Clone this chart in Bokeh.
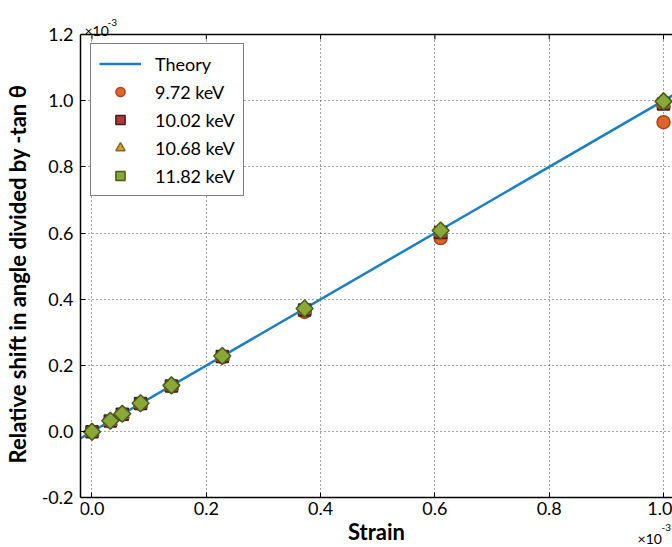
import math
from bokeh.plotting import figure
from bokeh.models import (FixedTicker, NumeralTickFormatter, Label, Range1d, Span)
from bokeh.embed import file_html
from bokeh.resources import INLINE

# Data (values in units of 1e-3)
strain = [0.0, 0.032, 0.053, 0.085, 0.139, 0.228, 0.372, 0.610, 1.000]
shift_972 = [0.0, 0.031, 0.052, 0.084, 0.137, 0.225, 0.362, 0.585, 0.935]
shift_1002 = [0.0, 0.032, 0.053, 0.085, 0.138, 0.227, 0.368, 0.602, 0.990]
shift_1068 = [0.0, 0.032, 0.053, 0.085, 0.139, 0.228, 0.370, 0.604, 0.993]
shift_1182 = [0.0, 0.033, 0.054, 0.086, 0.140, 0.229, 0.372, 0.608, 0.998]
theory_strain = [-0.05, 1.05]
theory_shift = [-0.05, 1.05]

x_ticks = [0.0, 0.2, 0.4, 0.6, 0.8, 1.0]
y_ticks = [-0.2, 0.0, 0.2, 0.4, 0.6, 0.8, 1.0, 1.2]
Y_MIN, Y_MAX = -0.2, 1.2

FONT = "Lato"
W, H = 672, 547

p = figure(width=W, height=H, output_backend="svg", toolbar_location=None,
           x_range=Range1d(-0.0201, 1.0157), y_range=Range1d(-0.3498, 1.3027),
           min_border_left=80, min_border_right=0, min_border_top=0,
           min_border_bottom=0, x_axis_label="Strain",
           y_axis_label="Relative shift in angle divided by -tan θ")
p.outline_line_color = None
p.background_fill_color = "white"
p.border_fill_color = "white"

xa, ya = p.xaxis[0], p.yaxis[0]
for ax, ticks in ((xa, x_ticks), (ya, y_ticks)):
    ax.ticker = FixedTicker(ticks=ticks)
    ax.formatter = NumeralTickFormatter(format="0.0")
    ax.major_tick_in = 5
    ax.major_tick_out = 0
    ax.minor_tick_line_color = None
    ax.axis_line_color = "black"
    ax.axis_line_width = 1.5
    ax.major_tick_line_color = "black"
    ax.major_label_text_font = FONT
    ax.major_label_text_font_size = "18px"
    ax.major_label_text_color = "black"
    ax.axis_label_text_font = FONT
    ax.axis_label_text_font_size = "22px"
    ax.axis_label_text_font_style = "bold"
    ax.axis_label_text_color = "black"

xa.fixed_location = Y_MIN
xa.major_label_standoff = 4
xa.axis_label_standoff = 0
ya.bounds = (Y_MIN, Y_MAX)
ya.major_label_standoff = 7
ya.axis_label_standoff = 8

GRID_COLOR, GRID_DASH = "#444444", "1 3"
p.ygrid.ticker = FixedTicker(ticks=y_ticks)
p.ygrid.grid_line_color = GRID_COLOR
p.ygrid.grid_line_dash = GRID_DASH
p.ygrid.grid_line_width = 1

xg = p.xgrid[0]
xg.ticker = FixedTicker(ticks=x_ticks)
xg.grid_line_color = GRID_COLOR
xg.grid_line_dash = GRID_DASH
xg.grid_line_width = 1
if "cross_bounds" in xg.properties():
    xg.cross_bounds = (Y_MIN, Y_MAX)
else:
    xg.visible = False
    p.segment(x0=x_ticks, y0=[Y_MIN] * len(x_ticks), x1=x_ticks,
              y1=[Y_MAX] * len(x_ticks), line_color=GRID_COLOR,
              line_dash=GRID_DASH, line_width=1)

# top frame line with inward ticks
p.add_layout(Span(location=Y_MAX, dimension="width", line_color="black",
                  line_width=1.5))
tick_len = 5.0 / 331.0
p.segment(x0=x_ticks, y0=[Y_MAX] * len(x_ticks), x1=x_ticks,
          y1=[Y_MAX - tick_len] * len(x_ticks), line_color="black", line_width=1)

p.line(theory_strain, theory_shift, line_color="#1a7fc4", line_width=2.5,
       legend_label="Theory")
p.scatter(strain, shift_972, marker="circle", size=13, fill_color="#e0642a",
          line_color="#a8441a", line_width=1.5, legend_label="9.72 keV")
p.scatter(strain, shift_1002, marker="square", size=12, fill_color="#b03a3a",
          line_color="#4a1a1a", line_width=1.5, legend_label="10.02 keV")
p.scatter(strain, shift_1068, marker="triangle", size=14, fill_color="#d4a030",
          line_color="#8a6420", line_width=1.5, legend_label="10.68 keV")
p.scatter(strain, shift_1182, marker="square", angle=math.pi / 4, size=12,
          fill_color="#8aa838", line_color="#4a5a20", line_width=1.5,
          legend_label="11.82 keV")

lg = p.legend[0]
lg.location = (10, 351)
lg.padding = 8
lg.spacing = 5
lg.label_height = 23
lg.glyph_height = 23
lg.glyph_width = 42
lg.label_standoff = 14
lg.label_text_font = FONT
lg.label_text_font_size = "18px"
lg.label_text_color = "black"
lg.border_line_color = "black"
lg.border_line_width = 1.2
lg.background_fill_alpha = 1.0

# ×10^-3 multipliers
def add_text(x, y, dx, dy, txt, size):
    p.add_layout(Label(x=x, y=y, x_offset=dx, y_offset=dy, text=txt,
                       text_font=FONT, text_font_size=size,
                       text_baseline="alphabetic", text_color="black"))

add_text(-0.0201, Y_MAX, 4, 4, "×10", "14px")
add_text(-0.0201, Y_MAX, 27, 12, "-3", "10px")
add_text(1.0, Y_MIN, -26, -41, "×10", "14px")
add_text(1.0, Y_MIN, -2, -30, "-3", "10px")

open("out.html", "w").write(file_html(p, INLINE))
